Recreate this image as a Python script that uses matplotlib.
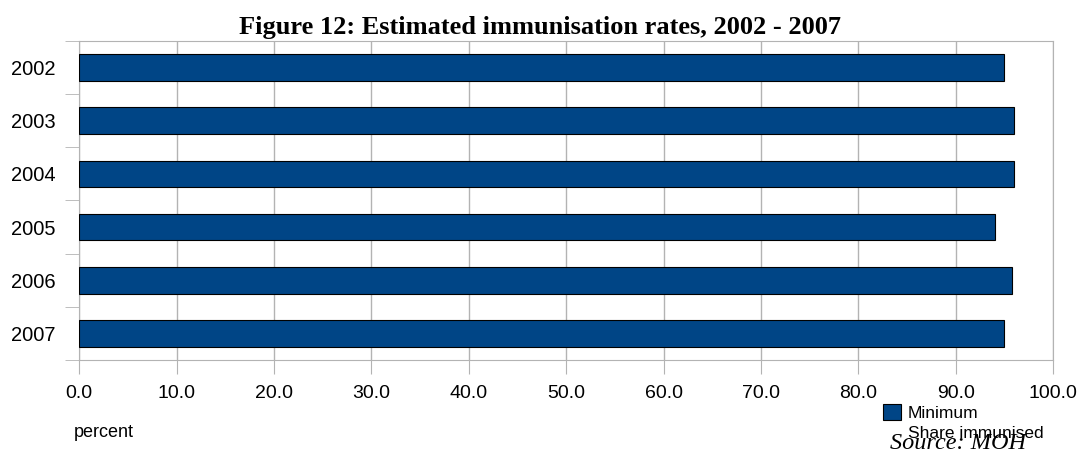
import numpy as np
import matplotlib.pyplot as plt
from matplotlib.patches import Patch

# Datos
years = ['2002', '2003', '2004', '2005', '2006', '2007']
share = [95.0, 96.0, 96.0, 94.0, 95.8, 95.0]
x_ticks = np.arange(0, 101, 10)

fig = plt.figure(figsize=(10.8, 4.53), dpi=100)
ax = fig.add_axes([0.0734, 0.2053, 0.9016, 0.7042])

pos = np.arange(len(years))
ax.barh(pos, share, height=0.5, color='#004586', edgecolor='black', linewidth=0.8, zorder=3,
        label='Minimum')

ax.set_xlim(0, 100)
ax.set_ylim(len(years) - 0.5, -0.5)
ax.set_xticks(x_ticks)
ax.set_xticklabels([f'{v:.1f}' for v in x_ticks], fontsize=14, family='Liberation Sans')
ax.set_yticks(pos)
ax.set_yticklabels(years, fontsize=14.5, family='Liberation Sans')
ax.tick_params(axis='y', length=0, pad=17)
ax.tick_params(axis='x', length=10, color='#b3b3b3', pad=8)
# marcas de separación entre categorías
ax.set_yticks(np.arange(-0.5, len(years)), minor=True)
ax.tick_params(axis='y', which='minor', length=10, color='#b3b3b3')

ax.grid(axis='x', color='#b3b3b3', linewidth=1, zorder=0)
for s in ax.spines.values():
    s.set_color('#b3b3b3')

fig.text(0.5, 0.925, 'Figure 12: Estimated immunisation rates, 2002 - 2007', ha='center', va='baseline',
         fontsize=19, fontweight='bold', family='Liberation Serif')
fig.text(0.068, 0.046, 'percent', ha='left', va='center', fontsize=13, family='Liberation Sans')

handles = [Patch(facecolor='#004586', edgecolor='black', linewidth=0.8),
           Patch(facecolor='none', edgecolor='none')]
fig.legend(handles, ['Minimum', 'Share immunised'], loc='upper left', bbox_to_anchor=(0.818, 0.108),
           frameon=False, prop={'family': 'Liberation Sans', 'size': 12.5}, handlelength=1.0,
           handleheight=1.0, handletextpad=0.4, labelspacing=0.2, borderpad=0, borderaxespad=0)

fig.text(0.824, 0.022, 'Source: MOH', ha='left', va='center', fontsize=17.5, style='italic',
         family='Liberation Serif')

fig.savefig('out.png', dpi=100)
